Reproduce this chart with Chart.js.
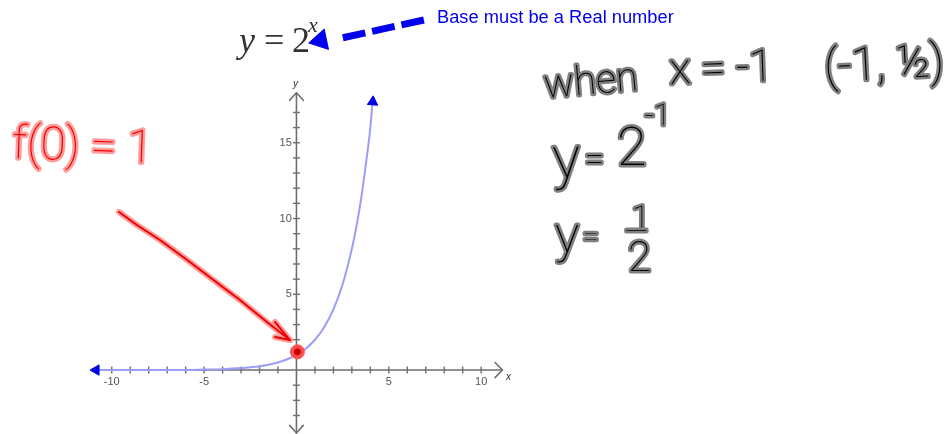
<!DOCTYPE html>
<html lang="en">
<head>
    <meta charset="UTF-8">
    <title>y = 2^x</title>
    <script src="https://cdn.jsdelivr.net/npm/chart.js"></script>
    <style>
        body { margin: 0; background: #fff; overflow: hidden; }
        #wrap { position: relative; width: 947px; height: 434px; }
        canvas { position: absolute; left: 0; top: 0; filter: blur(0.55px); }
        #note { position: absolute; left: 437px; top: 6px; color: #0000ee; white-space: nowrap;
                font: 18.3px "Liberation Sans", Arial, sans-serif; }
    </style>
</head>
<body>
    <div id="wrap">
        <canvas id="graph" width="947" height="434"></canvas>
        <div id="note">Base must be a Real number</div>
    </div>

    <script>
        // Curve
        const curveX = [-11, -6, -5, -4, -3, -2, -1, -0.5, 0, 0.5, 1, 1.5, 2, 2.5, 3, 3.25, 3.5, 3.75, 4, 4.13];
        const curveY = [0, 0, 0.03, 0.06, 0.13, 0.25, 0.5, 0.71, 1, 1.41, 2, 2.83, 4, 5.66, 8, 9.5, 11.3, 13.5, 16, 17.9];

        // Axes
        const xTickLabels = [-10, -5, 5, 10];
        const yTickLabels = [5, 10, 15];
        const xMinorTicks = [-10, -9, -8, -7, -6, -5, -4, -3, -2, -1, 1, 2, 3, 4, 5, 6, 7, 8, 9, 10];
        const yMinorTicks = [-3, -2, -1, 1, 2, 3, 4, 5, 6, 7, 8, 9, 10, 11, 12, 13, 14, 15, 16, 17];
        const xAxisEnds = [-11, 11.15];
        const yAxisEnds = [-4.15, 18.3];

        // Red hand drawn arrow pointing at (0, 1)
        const arrowX = [-9.61, -8.64, -7.39, -5.77, -4.49, -3.06, -1.6, -0.35];
        const arrowY = [10.43, 9.57, 8.58, 7.13, 5.94, 4.62, 3.17, 1.98];
        const arrowHeadX = [-1.16, -0.35, -1.16];
        const arrowHeadY = [3.17, 1.98, 2.18];
        const interceptX = [0.05];
        const interceptY = [1.2];

        // Blue dashed arrow pointing at the base of the formula
        const noteArrowX = [6.9, 2.4];
        const noteArrowY = [23.1, 21.9];
        const noteHeadX = [1.3];
        const noteHeadY = [21.75];

        function pts(xs, ys) {
            return xs.map((x, i) => ({ x: x, y: ys[i] }));
        }

        function line(xs, ys, color, width, extra) {
            return Object.assign({
                data: pts(xs, ys), showLine: true, borderColor: color, borderWidth: width,
                pointRadius: 0, borderCapStyle: 'round', borderJoinStyle: 'round'
            }, extra || {});
        }

        function marks(xs, ys, style, radius, rotation, color, width) {
            return {
                data: pts(xs, ys), showLine: false, pointStyle: style, pointRadius: radius,
                pointRotation: rotation, borderColor: color, backgroundColor: color, pointBorderWidth: width
            };
        }

        const axisGray = '#6f6f6f';
        const curveBlue = '#9c9cfa';
        const halo = '#ff9c9c';
        const red = '#f00000';

        // listed in paint order, reversed below because Chart.js paints the first one last
        const layers = [
            line(xAxisEnds, [0, 0], axisGray, 1.6),
            line([0, 0], yAxisEnds, axisGray, 1.6),
            line([10.75, 11.15, 10.75], [0.5, 0, -0.5], axisGray, 1.6),
            line([-0.37, 0, 0.37], [17.8, 18.3, 17.8], axisGray, 1.6),
            line([-0.37, 0, 0.37], [-3.65, -4.15, -3.65], axisGray, 1.6),
            marks(xMinorTicks, xMinorTicks.map(() => 0), 'line', 3.5, 90, axisGray, 1.4),
            marks(yMinorTicks.map(() => 0), yMinorTicks, 'line', 3.5, 0, axisGray, 1.4),
            line(curveX, curveY, curveBlue, 2, { cubicInterpolationMode: 'monotone' }),
            marks([-10.85], [0], 'triangle', 6, -90, '#0000e0', 1),
            marks([4.13], [17.7], 'triangle', 6, 4, '#0000e0', 1),
            line(arrowX, arrowY, halo, 6),
            line(arrowHeadX, arrowHeadY, halo, 6),
            line(arrowX, arrowY, red, 2),
            line(arrowHeadX, arrowHeadY, red, 2),
            marks(interceptX, interceptY, 'circle', 7, 0, '#ff4d4d', 1),
            marks(interceptX, interceptY, 'circle', 3, 0, '#c80000', 1),
            line(noteArrowX, noteArrowY, '#0000ee', 7, { borderDash: [23, 7], borderCapStyle: 'butt' }),
            marks(noteHeadX, noteHeadY, 'triangle', 12, -102, '#0000ee', 1)
        ].reverse();

        // Text written on the picture
        const inkBlack = { fill: '#000', stroke: '#808080', width: 5 };
        const inkRed = { fill: '#f00000', stroke: '#ff9c9c', width: 5 };
        const hand = size => '100 ' + size + 'px Roboto, Lato, sans-serif';
        const writing = [
            ['when', 545, 98, -5, hand(40), inkBlack],
            ['x = -1', 670, 84, -2, hand(44), inkBlack],
            ['(-1, ½)', 825, 82, -3, hand(46), inkBlack],
            ['y', 553, 178, -2, hand(58), inkBlack],
            ['=', 585, 170, 0, hand(34), inkBlack],
            ['2', 617, 165, 0, hand(54), inkBlack],
            ['-1', 645, 125, 0, hand(30), inkBlack],
            ['y', 555, 252, 0, hand(50), inkBlack],
            ['=', 583, 246, 0, hand(28), inkBlack],
            ['1', 632, 228, 0, hand(32), inkBlack],
            ['—', 625, 241, 0, hand(30), inkBlack],
            ['2', 628, 271, 0, hand(42), inkBlack],
            ['f(0) = 1', 12, 158, 2, hand(46), inkRed],
            ['y', 239, 52, 0, 'italic 36px "Liberation Serif", serif', null],
            ['=', 264, 52, 0, '36px "Liberation Serif", serif', null],
            ['2', 292, 52, 0, '36px "Liberation Serif", serif', null],
            ['x', 308, 32, 0, 'italic 22px "Liberation Serif", serif', null],
            ['x', 506, 380, 0, 'italic 10px "Liberation Sans", sans-serif', null],
            ['y', 293, 87, 0, 'italic 10px "Liberation Sans", sans-serif', null]
        ];

        const writingPlugin = {
            id: 'writing',
            afterDraw(chart) {
                const ctx = chart.ctx;
                writing.forEach(([text, x, y, angle, font, ink]) => {
                    ctx.save();
                    ctx.translate(x, y);
                    ctx.rotate(angle * Math.PI / 180);
                    ctx.font = font;
                    ctx.lineJoin = 'round';
                    if (ink) {
                        ctx.strokeStyle = ink.stroke;
                        ctx.lineWidth = ink.width;
                        ctx.strokeText(text, 0, 0);
                        ctx.fillStyle = ink.fill;
                    } else {
                        ctx.fillStyle = '#333';
                    }
                    ctx.fillText(text, 0, 0);
                    ctx.restore();
                });
            }
        };

        function centerAxis(labels, position, min, max, padding) {
            return {
                type: 'linear', position: position, min: min, max: max,
                grid: { display: false, drawTicks: false },
                border: { display: false },
                afterBuildTicks: axis => { axis.ticks = labels.map(v => ({ value: v })); },
                // the labels must not shrink the plot, it fills the whole page
                afterFit: axis => {
                    axis.paddingLeft = axis.paddingRight = axis.paddingTop = axis.paddingBottom = 0;
                },
                ticks: {
                    autoSkip: false, maxRotation: 0, padding: padding, color: '#555',
                    font: { family: '"Liberation Sans", sans-serif', size: 11 },
                    callback: v => String(v)
                }
            };
        }

        new Chart(document.getElementById('graph'), {
            type: 'scatter',
            data: { datasets: layers },
            options: {
                responsive: false,
                animation: false,
                layout: { padding: 0, autoPadding: false },
                plugins: { legend: { display: false }, tooltip: { enabled: false } },
                scales: {
                    x: centerAxis(xTickLabels, { y: 0 }, -16.05, 35.22, 5),
                    y: centerAxis(yTickLabels, { x: -0.25 }, -4.22, 24.42, 0)
                }
            },
            plugins: [writingPlugin]
        });
    </script>
</body>
</html>
